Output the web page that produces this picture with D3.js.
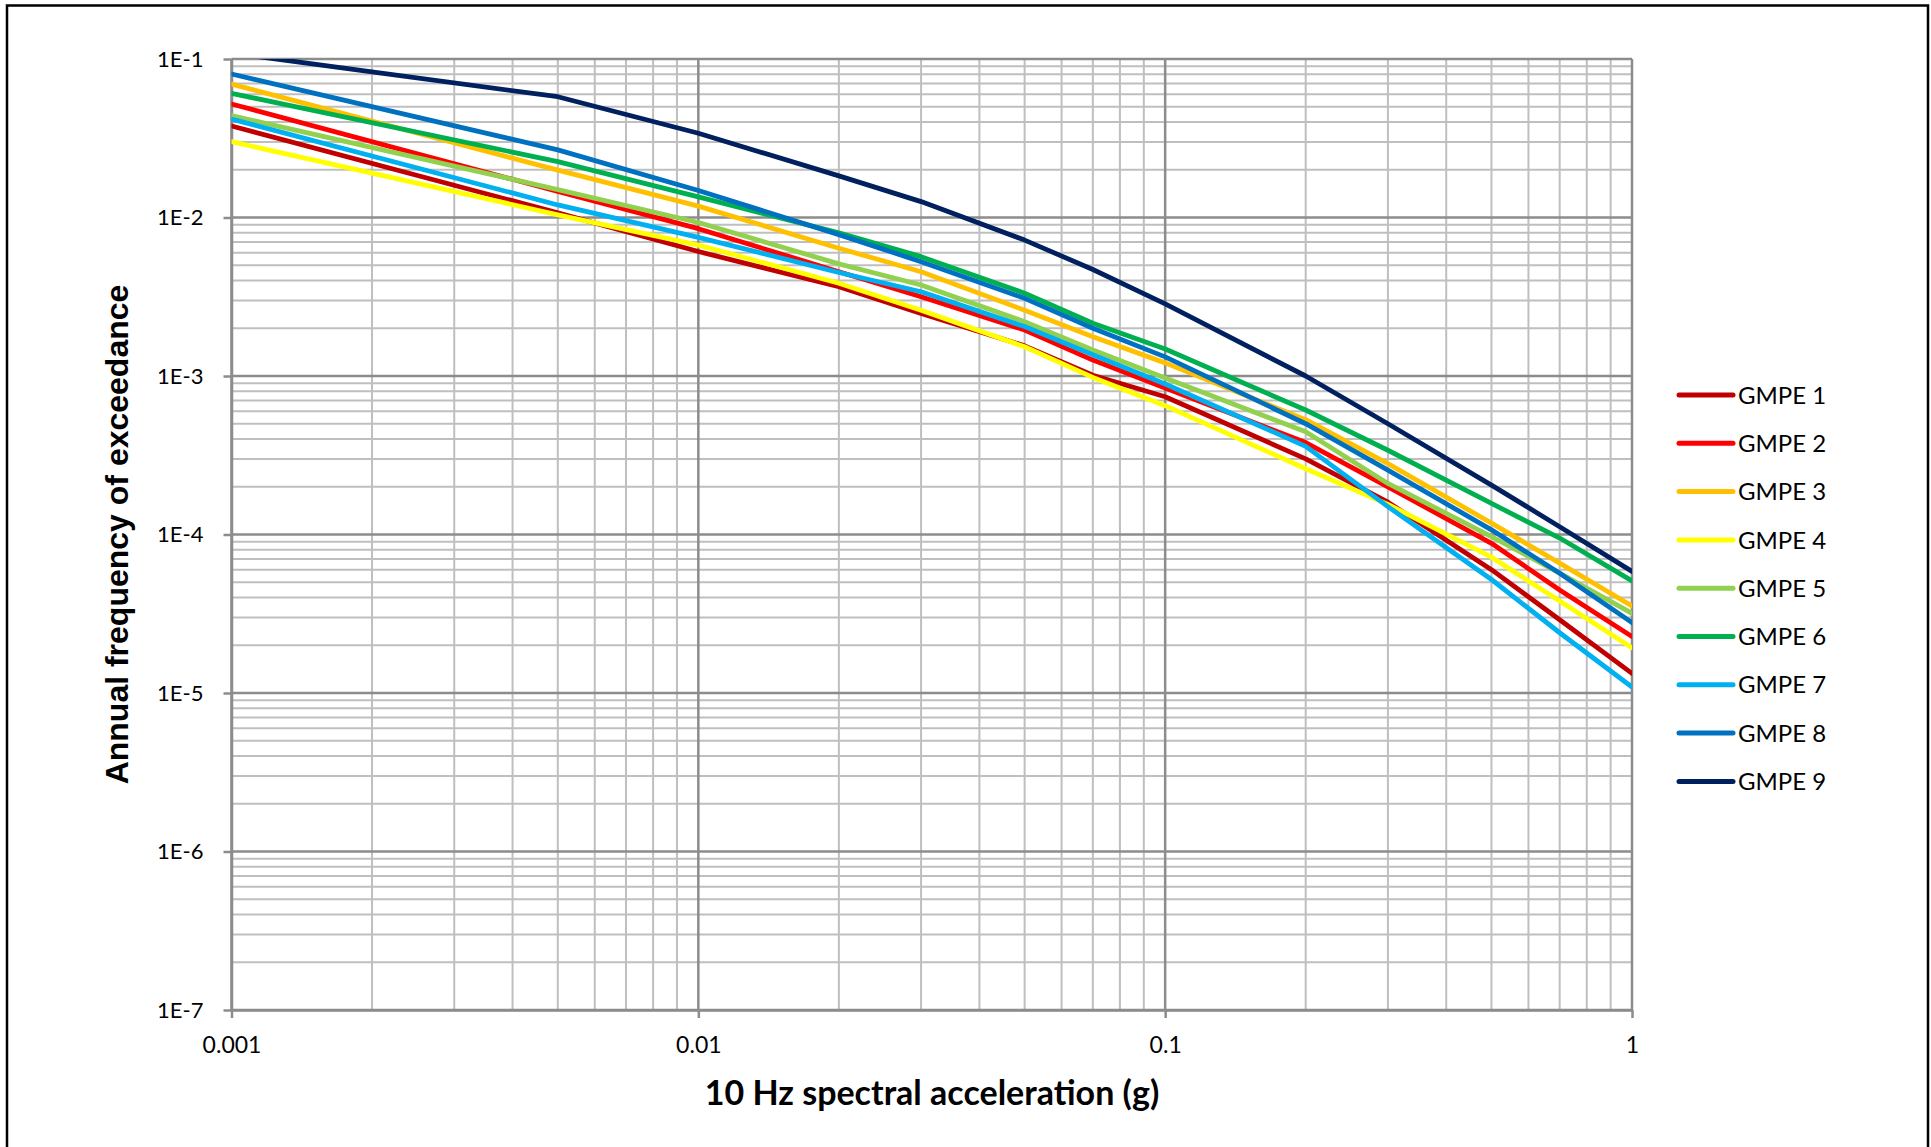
<!DOCTYPE html>
<html>
<head>
<meta charset="utf-8">
<script src="https://cdn.jsdelivr.net/npm/d3@7/dist/d3.min.js"></script>
<style>
  body { margin: 0; background: #ffffff; }
</style>
</head>
<body>
<script>
// spectral acceleration levels (g)
var accel = [0.001, 0.005, 0.01, 0.02, 0.03, 0.05, 0.07, 0.1, 0.2, 0.3, 0.5, 0.7, 1.0];

// annual frequency of exceedance for every GMPE
var gmpe1 = [0.0378, 0.0107, 0.0061, 0.00366, 0.00248, 0.00155, 0.00101, 0.00074, 0.00030, 0.00016, 0.000060, 0.000029, 0.0000133];
var gmpe2 = [0.052, 0.0146, 0.0085, 0.00455, 0.00316, 0.00195, 0.00126, 0.00084, 0.00038, 0.00020, 0.000088, 0.0000447, 0.0000227];
var gmpe3 = [0.0695, 0.0199, 0.0118, 0.0064, 0.00455, 0.0026, 0.00177, 0.00121, 0.00053, 0.00028, 0.000118, 0.000066, 0.0000354];
var gmpe4 = [0.0301, 0.0104, 0.0067, 0.00385, 0.0026, 0.00153, 0.00098, 0.00065, 0.00026, 0.000155, 0.000072, 0.000038, 0.0000193];
var gmpe5 = [0.0439, 0.0150, 0.0093, 0.0051, 0.00375, 0.0022, 0.00146, 0.00097, 0.000445, 0.00021, 0.000097, 0.000057, 0.0000318];
var gmpe6 = [0.0607, 0.0225, 0.0135, 0.0080, 0.00566, 0.00333, 0.00215, 0.00148, 0.00061, 0.00034, 0.000157, 0.000095, 0.000051];
var gmpe7 = [0.0418, 0.012, 0.0075, 0.0045, 0.0034, 0.00205, 0.00136, 0.00089, 0.00036, 0.00015, 0.000052, 0.000024, 0.0000109];
var gmpe8 = [0.0804, 0.0267, 0.0148, 0.0078, 0.00526, 0.00309, 0.0020, 0.00132, 0.00050, 0.000255, 0.000107, 0.000057, 0.0000278];
var gmpe9 = [0.109, 0.0578, 0.034, 0.0183, 0.0126, 0.0072, 0.0047, 0.00285, 0.0010, 0.00050, 0.000205, 0.000112, 0.0000585];

var seriesNames = ["GMPE 1", "GMPE 2", "GMPE 3", "GMPE 4", "GMPE 5",
                   "GMPE 6", "GMPE 7", "GMPE 8", "GMPE 9"];
var seriesColours = ["#C00000", "#FF0000", "#FFC000", "#FFFF00", "#92D050",
                     "#00B050", "#00B0F0", "#0070C0", "#002060"];

// axis ticks
var yTickValues = [1e-1, 1e-2, 1e-3, 1e-4, 1e-5, 1e-6, 1e-7];
var yTickLabels = ["1E-1", "1E-2", "1E-3", "1E-4", "1E-5", "1E-6", "1E-7"];
var xTickValues = [0.001, 0.01, 0.1, 1];
var xTickLabels = ["0.001", "0.01", "0.1", "1"];

window.onload = function() {
    makeGraph();
};

const makeGraph = function() {

    // defines the size of the SVG
    var width = 1931;
    var height = 1147;

    // defines the plot area
    var pad = {
      top: 59,
      bottom: 1010,
      left: 231.5,
      right: 1632
    };

    var svg = d3.select("body")
                .append("svg")
                .attr("width", width)
                .attr("height", height)
                .style("display", "block");

    svg.append("rect")
       .attr("width", width)
       .attr("height", height)
       .attr("fill", "#ffffff");

    // outer chart border (bottom edge runs off the picture)
    svg.append("rect")
       .attr("x", 7)
       .attr("y", 5.5)
       .attr("width", 1921)
       .attr("height", 1160)
       .attr("fill", "none")
       .attr("stroke", "#000000")
       .attr("stroke-width", 2.5);

    // log scales for both axes
    var xScale = d3.scaleLog()
                   .domain([0.001, 1])
                   .range([pad.left, pad.right]);
    var yScale = d3.scaleLog()
                   .domain([1e-7, 1e-1])
                   .range([pad.bottom, pad.top]);

    var isMajor = function(v) {
        var l = Math.log10(v);
        return Math.abs(l - Math.round(l)) < 1e-9;
    };

    // minor gridlines
    var grid = svg.append("g");
    grid.selectAll(".vminor")
        .data(xScale.ticks().filter(function(d){ return !isMajor(d); }))
        .enter()
        .append("line")
        .attr("x1", function(d){ return xScale(d); })
        .attr("x2", function(d){ return xScale(d); })
        .attr("y1", pad.top)
        .attr("y2", pad.bottom)
        .attr("stroke", "#bfbfbf")
        .attr("stroke-width", 2);
    grid.selectAll(".hminor")
        .data(yScale.ticks().filter(function(d){ return !isMajor(d); }))
        .enter()
        .append("line")
        .attr("x1", pad.left)
        .attr("x2", pad.right)
        .attr("y1", function(d){ return yScale(d); })
        .attr("y2", function(d){ return yScale(d); })
        .attr("stroke", "#bfbfbf")
        .attr("stroke-width", 2);

    // major gridlines
    grid.selectAll(".vmajor")
        .data(xTickValues)
        .enter()
        .append("line")
        .attr("x1", function(d){ return xScale(d); })
        .attr("x2", function(d){ return xScale(d); })
        .attr("y1", pad.top)
        .attr("y2", pad.bottom)
        .attr("stroke", "#8c8c8c")
        .attr("stroke-width", 2.5);
    grid.selectAll(".hmajor")
        .data(yTickValues)
        .enter()
        .append("line")
        .attr("x1", pad.left)
        .attr("x2", pad.right)
        .attr("y1", function(d){ return yScale(d); })
        .attr("y2", function(d){ return yScale(d); })
        .attr("stroke", "#8c8c8c")
        .attr("stroke-width", 2.5);

    // defines the axes
    var xAxis = d3.axisBottom()
                  .scale(xScale)
                  .tickValues(xTickValues)
                  .tickSizeInner(8)
                  .tickSizeOuter(0)
                  .tickPadding(19)
                  .tickFormat(function(d, i){ return xTickLabels[i]; });
    var yAxis = d3.axisLeft()
                  .scale(yScale)
                  .tickValues(yTickValues)
                  .tickSizeInner(8)
                  .tickSizeOuter(0)
                  .tickPadding(20)
                  .tickFormat(function(d, i){ return yTickLabels[i]; });

    var gx = svg.append("g")
                .attr("transform", "translate(0," + pad.bottom + ")")
                .call(xAxis);
    var gy = svg.append("g")
                .attr("transform", "translate(" + pad.left + ",0)")
                .call(yAxis);

    [gx, gy].forEach(function(g){
        g.select(".domain")
         .attr("stroke", "#8c8c8c")
         .attr("stroke-width", 2.5);
        g.selectAll(".tick line")
         .attr("stroke", "#8c8c8c")
         .attr("stroke-width", 2.5);
        g.selectAll(".tick text")
         .attr("fill", "#000000")
         .style("font-family", "Lato, 'Open Sans', sans-serif")
         .style("font-size", "22px");
    });
    gx.selectAll(".tick text").style("font-size", "23px");

    // clip the curves to the plot area
    svg.append("clipPath")
       .attr("id", "plotClip")
       .append("rect")
       .attr("x", pad.left)
       .attr("y", pad.top)
       .attr("width", pad.right - pad.left)
       .attr("height", pad.bottom - pad.top);

    var allSeries = [gmpe1, gmpe2, gmpe3, gmpe4, gmpe5, gmpe6, gmpe7, gmpe8, gmpe9];

    var line = d3.line()
                 .x(function(d, i){ return xScale(accel[i]); })
                 .y(function(d){ return yScale(d); });

    svg.append("g")
       .attr("clip-path", "url(#plotClip)")
       .selectAll("path")
       .data(allSeries)
       .enter()
       .append("path")
       .attr("d", line)
       .attr("fill", "none")
       .attr("stroke", function(d, i){ return seriesColours[i]; })
       .attr("stroke-width", 4.8)
       .attr("stroke-linejoin", "round")
       .attr("stroke-linecap", "round");

    // legend
    var legend = svg.append("g")
                    .attr("transform", "translate(1679,395)");
    var rows = legend.selectAll("g")
                     .data(seriesNames)
                     .enter()
                     .append("g")
                     .attr("transform", function(d, i){
                         return "translate(0," + (i * 48.3) + ")";
                     });
    rows.append("line")
        .attr("x1", 0)
        .attr("x2", 54)
        .attr("stroke", function(d, i){ return seriesColours[i]; })
        .attr("stroke-width", 5)
        .attr("stroke-linecap", "round");
    rows.append("text")
        .attr("x", 59)
        .attr("dy", "0.36em")
        .style("font-family", "Lato, 'Open Sans', sans-serif")
        .style("font-size", "24px")
        .text(function(d){ return d; });

    // axis titles
    svg.append("text")
       .attr("x", 932)
       .attr("y", 1105)
       .attr("text-anchor", "middle")
       .style("font-family", "Lato, 'Open Sans', sans-serif")
       .style("font-weight", "bold")
       .style("font-size", "34px")
       .text("10 Hz spectral acceleration (g)");

    svg.append("text")
       .attr("transform", "translate(117,534.5) rotate(-90)")
       .attr("text-anchor", "middle")
       .attr("dy", "0.35em")
       .style("font-family", "'Liberation Sans', Arial, sans-serif")
       .style("font-weight", "bold")
       .style("font-size", "32px")
       .text("Annual frequency of exceedance");
};
</script>
</body>
</html>
